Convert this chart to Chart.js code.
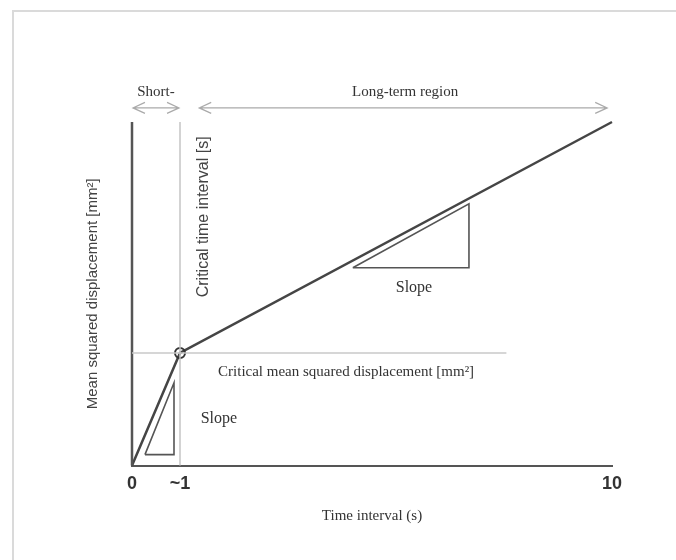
<!DOCTYPE html>
<html>
<head>
<meta charset="utf-8">
<script src="https://cdn.jsdelivr.net/npm/chart.js@4.4.0/dist/chart.umd.min.js"></script>
<style>
  html, body { margin: 0; padding: 0; background: #fff; }
  #wrap { position: relative; width: 676px; height: 560px; overflow: hidden; }
  #frame { position: absolute; left: 12px; top: 10px; width: 700px; height: 600px;
           border-top: 2px solid #dadada; border-left: 2px solid #dadada; }
  #chart { position: absolute; left: 0; top: 0; }
</style>
</head>
<body>
<div id="wrap">
  <div id="frame"></div>
  <canvas id="chart" width="676" height="560"></canvas>
</div>
<script>
// values (x: time interval, y: MSD in arbitrary units)
const curveX = [0, 1, 10];
const curveY = [0, 3.28, 10];
const critX = 1;
const critY = 3.28;
const critLineEndX = 7.8;
const axisTopY = 10;

const smallTriX = [0.27, 0.875, 0.875, 0.27];
const smallTriY = [0.32, 0.32, 2.41, 0.32];
const bigTriX = [4.6, 7.02, 7.02, 4.6];
const bigTriY = [5.76, 5.76, 7.62, 5.76];

const shortArrowX = [0.02, 0.98];
const longArrowX = [1.4, 9.9];
const arrowY = 10.41;

const tickValues = [0, 1, 10];
const tickLabels = ['0', '~1', '10'];

const serif = 'Liberation Serif, Times New Roman, serif';
const sans = 'Liberation Sans, Arial, sans-serif';

// free text placed in data units
const notes = [
    { text: 'Short-', x: 0.5, y: 10.87, font: '15px ' + serif },
    { text: 'Long-term region', x: 5.69, y: 10.87, font: '15px ' + serif },
    { text: 'Critical time interval [s]', x: 1.5, y: 7.24, font: '16px ' + sans, rotate: true },
    { text: 'Slope', x: 5.875, y: 5.17, font: '16px ' + serif },
    { text: 'Critical mean squared displacement [mm\u00b2]', x: 4.46, y: 2.73, font: '15px ' + serif },
    { text: 'Slope', x: 1.81, y: 1.37, font: '16px ' + serif }
];

function pts(xs, ys) {
    return xs.map((x, i) => ({ x: x, y: ys[i] }));
}

function arrow(xs, y) {
    const hx = 0.25, hy = 0.16;
    return [
        { x: xs[0] + hx, y: y + hy }, { x: xs[0], y: y }, { x: xs[0] + hx, y: y - hy }, { x: null, y: null },
        { x: xs[0], y: y }, { x: xs[1], y: y }, { x: null, y: null },
        { x: xs[1] - hx, y: y + hy }, { x: xs[1], y: y }, { x: xs[1] - hx, y: y - hy }
    ];
}

function lineSet(data, color, width) {
    return {
        data: data,
        showLine: true,
        borderColor: color,
        borderWidth: width,
        pointRadius: 0,
        spanGaps: false,
        clip: false,
        tension: 0
    };
}

const notesPlugin = {
    id: 'notes',
    afterDatasetsDraw(chart) {
        const ctx = chart.ctx;
        const xs = chart.scales.x, ys = chart.scales.y;
        ctx.save();
        ctx.fillStyle = '#333';
        ctx.textAlign = 'center';
        ctx.textBaseline = 'middle';
        notes.forEach(n => {
            ctx.font = n.font;
            const px = xs.getPixelForValue(n.x);
            const py = ys.getPixelForValue(n.y);
            if (n.rotate) {
                ctx.save();
                ctx.translate(px, py);
                ctx.rotate(-Math.PI / 2);
                ctx.fillStyle = '#444';
                ctx.fillText(n.text, 0, 0);
                ctx.restore();
            } else {
                ctx.fillText(n.text, px, py);
            }
        });
        ctx.restore();
    }
};

const curve = lineSet(pts(curveX, curveY), '#454545', 2.5);
curve.pointRadius = curveX.map(x => (x === critX ? 5 : 0));
curve.pointBorderColor = '#333';
curve.pointBorderWidth = 2;
curve.pointBackgroundColor = 'rgba(0,0,0,0)';

new Chart(document.getElementById('chart'), {
    type: 'scatter',
    data: {
        datasets: [
            lineSet([{ x: critX, y: 0 }, { x: critX, y: axisTopY }], '#c4c4c4', 1.5),
            lineSet([{ x: 0, y: critY }, { x: critLineEndX, y: critY }], '#c8c8c8', 1.5),
            lineSet([{ x: 0, y: 0 }, { x: 0, y: axisTopY }], '#555', 2.5),
            lineSet(pts(smallTriX, smallTriY), '#555', 1.6),
            lineSet(pts(bigTriX, bigTriY), '#555', 1.6),
            lineSet(arrow(shortArrowX, arrowY), '#aaa', 1.2),
            lineSet(arrow(longArrowX, arrowY), '#aaa', 1.2),
            curve
        ]
    },
    options: {
        responsive: false,
        animation: false,
        events: [],
        layout: { padding: { left: 81, right: 64, top: 122, bottom: 34.8 } },
        plugins: {
            legend: { display: false },
            tooltip: { enabled: false }
        },
        scales: {
            x: {
                type: 'linear',
                min: 0,
                max: 10,
                grid: { display: false, drawTicks: false },
                border: { display: true, color: '#555', width: 2 },
                afterBuildTicks: scale => { scale.ticks = tickValues.map(v => ({ value: v })); },
                ticks: {
                    padding: 8,
                    color: '#333',
                    maxRotation: 0,
                    autoSkip: false,
                    font: { family: sans, size: 18, weight: 'bold' },
                    callback: v => tickLabels[tickValues.indexOf(v)]
                },
                title: {
                    display: true,
                    text: 'Time interval (s)',
                    color: '#333',
                    font: { family: serif, size: 15 },
                    padding: { top: 4, bottom: 0 }
                }
            },
            y: {
                type: 'linear',
                min: 0,
                max: 10,
                grid: { display: false, drawTicks: false },
                border: { display: false },
                ticks: { display: false },
                title: {
                    display: true,
                    text: 'Mean squared displacement [mm\u00b2]',
                    color: '#444',
                    font: { family: sans, size: 15 },
                    padding: { top: 3, bottom: 30 }
                }
            }
        }
    },
    plugins: [notesPlugin]
});
</script>
</body>
</html>
